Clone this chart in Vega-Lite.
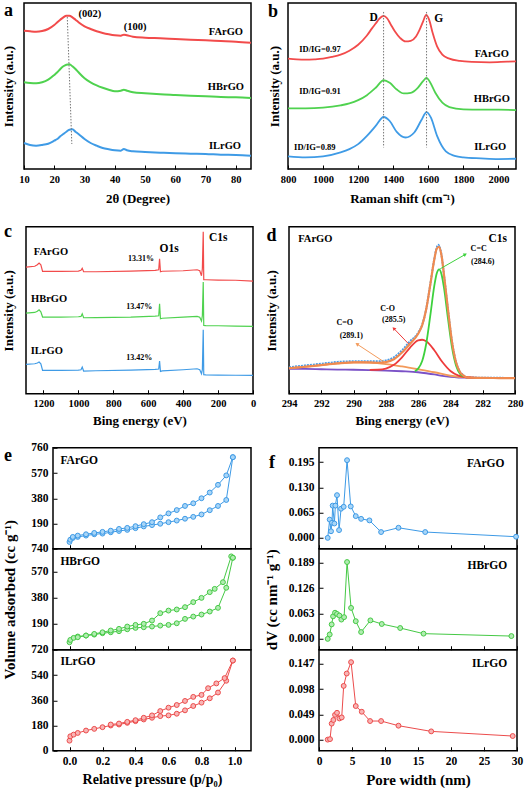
{
"$schema": "https://vega.github.io/schema/vega-lite/v6.json",
"padding": {"left": 0, "top": 0, "right": 0, "bottom": 0},
"background": "white",
"config": {
 "font": "Liberation Serif",
 "view": {"stroke": "#000", "strokeWidth": 1.5},
 "axis": {"domain": false, "grid": false, "labelFont": "Liberation Serif", "labelFontWeight": "bold", "labelFontSize": 10.5, "labelColor": "#000", "titleFont": "Liberation Serif", "titleFontWeight": "bold", "titleFontSize": 13, "titleColor": "#000", "tickColor": "#000", "tickSize": -4, "tickWidth": 1, "labelPadding": 9, "titlePadding": 8, "labelFlush": false, "labelOverlap": false},
 "text": {"font": "Liberation Serif", "fontWeight": "bold", "color": "#000"}
},
"datasets": {
 "xrd": [
  {"x":10,"y":138.3,"s":"FArGO"},{"x":12,"y":137.7,"s":"FArGO"},{"x":14,"y":137.3,"s":"FArGO"},{"x":16,"y":138,"s":"FArGO"},{"x":18,"y":140,"s":"FArGO"},{"x":20,"y":144,"s":"FArGO"},{"x":21,"y":146.7,"s":"FArGO"},{"x":22,"y":149.3,"s":"FArGO"},{"x":23,"y":151.7,"s":"FArGO"},{"x":24,"y":153.3,"s":"FArGO"},{"x":25,"y":153.3,"s":"FArGO"},{"x":26,"y":151.7,"s":"FArGO"},{"x":27,"y":149.3,"s":"FArGO"},{"x":28,"y":146.7,"s":"FArGO"},{"x":30,"y":142.7,"s":"FArGO"},{"x":32,"y":140,"s":"FArGO"},{"x":34,"y":137.7,"s":"FArGO"},{"x":36,"y":136,"s":"FArGO"},{"x":38,"y":134.7,"s":"FArGO"},{"x":40,"y":133.7,"s":"FArGO"},{"x":42,"y":133.3,"s":"FArGO"},{"x":43,"y":134.3,"s":"FArGO"},{"x":44,"y":133.7,"s":"FArGO"},{"x":46,"y":132.3,"s":"FArGO"},{"x":50,"y":131.3,"s":"FArGO"},{"x":55,"y":130.7,"s":"FArGO"},{"x":60,"y":130,"s":"FArGO"},{"x":65,"y":129.3,"s":"FArGO"},{"x":70,"y":128.7,"s":"FArGO"},{"x":75,"y":128,"s":"FArGO"},{"x":80,"y":127.3,"s":"FArGO"},{"x":85,"y":126.3,"s":"FArGO"},
  {"x":10,"y":86.7,"s":"HBrGO"},{"x":12,"y":86,"s":"HBrGO"},{"x":14,"y":85.7,"s":"HBrGO"},{"x":16,"y":86.7,"s":"HBrGO"},{"x":18,"y":89.3,"s":"HBrGO"},{"x":20,"y":94,"s":"HBrGO"},{"x":21,"y":96.7,"s":"HBrGO"},{"x":22,"y":100,"s":"HBrGO"},{"x":23,"y":102.7,"s":"HBrGO"},{"x":24,"y":104.3,"s":"HBrGO"},{"x":25,"y":104.7,"s":"HBrGO"},{"x":26,"y":102.7,"s":"HBrGO"},{"x":27,"y":100,"s":"HBrGO"},{"x":28,"y":96.7,"s":"HBrGO"},{"x":30,"y":90.7,"s":"HBrGO"},{"x":32,"y":86.7,"s":"HBrGO"},{"x":34,"y":83.7,"s":"HBrGO"},{"x":36,"y":81.3,"s":"HBrGO"},{"x":38,"y":79.3,"s":"HBrGO"},{"x":40,"y":77.7,"s":"HBrGO"},{"x":42,"y":78.3,"s":"HBrGO"},{"x":43,"y":79.3,"s":"HBrGO"},{"x":44,"y":78.3,"s":"HBrGO"},{"x":46,"y":76.7,"s":"HBrGO"},{"x":50,"y":75.7,"s":"HBrGO"},{"x":55,"y":74.7,"s":"HBrGO"},{"x":60,"y":74,"s":"HBrGO"},{"x":65,"y":73.3,"s":"HBrGO"},{"x":70,"y":72.7,"s":"HBrGO"},{"x":75,"y":72,"s":"HBrGO"},{"x":80,"y":71.7,"s":"HBrGO"},{"x":85,"y":71,"s":"HBrGO"},
  {"x":10,"y":26,"s":"ILrGO"},{"x":12,"y":24,"s":"ILrGO"},{"x":14,"y":23.3,"s":"ILrGO"},{"x":16,"y":24,"s":"ILrGO"},{"x":18,"y":25.3,"s":"ILrGO"},{"x":20,"y":28.3,"s":"ILrGO"},{"x":21,"y":30,"s":"ILrGO"},{"x":22,"y":32.7,"s":"ILrGO"},{"x":23,"y":35,"s":"ILrGO"},{"x":24,"y":37.3,"s":"ILrGO"},{"x":25,"y":39.3,"s":"ILrGO"},{"x":26,"y":39.7,"s":"ILrGO"},{"x":27,"y":37.3,"s":"ILrGO"},{"x":28,"y":35,"s":"ILrGO"},{"x":30,"y":30,"s":"ILrGO"},{"x":32,"y":26,"s":"ILrGO"},{"x":34,"y":23.3,"s":"ILrGO"},{"x":36,"y":21,"s":"ILrGO"},{"x":38,"y":19.7,"s":"ILrGO"},{"x":40,"y":18.7,"s":"ILrGO"},{"x":42,"y":18.3,"s":"ILrGO"},{"x":43,"y":20,"s":"ILrGO"},{"x":44,"y":18.7,"s":"ILrGO"},{"x":46,"y":17.7,"s":"ILrGO"},{"x":50,"y":17,"s":"ILrGO"},{"x":55,"y":16.3,"s":"ILrGO"},{"x":60,"y":15.7,"s":"ILrGO"},{"x":65,"y":15.3,"s":"ILrGO"},{"x":70,"y":15,"s":"ILrGO"},{"x":75,"y":14.3,"s":"ILrGO"},{"x":80,"y":14,"s":"ILrGO"},{"x":85,"y":13.3,"s":"ILrGO"}
 ],
 "xrdg": [{"x":24.3,"y":152},{"x":25.8,"y":25}],
 "xrdl": [{"x":31.8,"y":155,"t":"(002)"},{"x":46.7,"y":141.7,"t":"(100)"},{"x":76.7,"y":136.7,"t":"FArGO"},{"x":76.7,"y":81.7,"t":"HBrGO"},{"x":76.4,"y":22.7,"t":"ILrGO"}],
 "ram": [
  {"x":800,"y":111,"s":"FArGO"},{"x":850,"y":110.3,"s":"FArGO"},{"x":900,"y":110,"s":"FArGO"},{"x":950,"y":110.3,"s":"FArGO"},{"x":1000,"y":111,"s":"FArGO"},{"x":1050,"y":112.7,"s":"FArGO"},{"x":1100,"y":115,"s":"FArGO"},{"x":1150,"y":119,"s":"FArGO"},{"x":1200,"y":125,"s":"FArGO"},{"x":1250,"y":134.3,"s":"FArGO"},{"x":1280,"y":141.7,"s":"FArGO"},{"x":1300,"y":146.3,"s":"FArGO"},{"x":1320,"y":151,"s":"FArGO"},{"x":1345,"y":154,"s":"FArGO"},{"x":1365,"y":151.7,"s":"FArGO"},{"x":1385,"y":145.7,"s":"FArGO"},{"x":1410,"y":138.3,"s":"FArGO"},{"x":1440,"y":131.7,"s":"FArGO"},{"x":1470,"y":128.3,"s":"FArGO"},{"x":1500,"y":129,"s":"FArGO"},{"x":1530,"y":133.3,"s":"FArGO"},{"x":1550,"y":140,"s":"FArGO"},{"x":1570,"y":148.3,"s":"FArGO"},{"x":1588,"y":155,"s":"FArGO"},{"x":1605,"y":150,"s":"FArGO"},{"x":1625,"y":136.7,"s":"FArGO"},{"x":1650,"y":123.3,"s":"FArGO"},{"x":1680,"y":115,"s":"FArGO"},{"x":1720,"y":111,"s":"FArGO"},{"x":1780,"y":108.7,"s":"FArGO"},{"x":1850,"y":107.7,"s":"FArGO"},{"x":1950,"y":107.3,"s":"FArGO"},{"x":2050,"y":108,"s":"FArGO"},{"x":2100,"y":108.3,"s":"FArGO"},
  {"x":800,"y":61,"s":"HBrGO"},{"x":900,"y":61,"s":"HBrGO"},{"x":1000,"y":61.7,"s":"HBrGO"},{"x":1100,"y":64,"s":"HBrGO"},{"x":1150,"y":66,"s":"HBrGO"},{"x":1200,"y":69.3,"s":"HBrGO"},{"x":1250,"y":74.3,"s":"HBrGO"},{"x":1300,"y":81.7,"s":"HBrGO"},{"x":1345,"y":89.3,"s":"HBrGO"},{"x":1380,"y":86.7,"s":"HBrGO"},{"x":1420,"y":80,"s":"HBrGO"},{"x":1460,"y":76,"s":"HBrGO"},{"x":1500,"y":76.7,"s":"HBrGO"},{"x":1540,"y":81.7,"s":"HBrGO"},{"x":1570,"y":88.3,"s":"HBrGO"},{"x":1590,"y":91.7,"s":"HBrGO"},{"x":1610,"y":87.3,"s":"HBrGO"},{"x":1640,"y":76.7,"s":"HBrGO"},{"x":1680,"y":66.7,"s":"HBrGO"},{"x":1720,"y":62.3,"s":"HBrGO"},{"x":1800,"y":60,"s":"HBrGO"},{"x":1900,"y":59.7,"s":"HBrGO"},{"x":2000,"y":59.7,"s":"HBrGO"},{"x":2100,"y":59.3,"s":"HBrGO"},
  {"x":800,"y":12.7,"s":"ILrGO"},{"x":900,"y":11.7,"s":"ILrGO"},{"x":1000,"y":12.7,"s":"ILrGO"},{"x":1100,"y":16.7,"s":"ILrGO"},{"x":1150,"y":20,"s":"ILrGO"},{"x":1200,"y":25,"s":"ILrGO"},{"x":1250,"y":33.3,"s":"ILrGO"},{"x":1300,"y":43.3,"s":"ILrGO"},{"x":1345,"y":52.3,"s":"ILrGO"},{"x":1380,"y":48.3,"s":"ILrGO"},{"x":1420,"y":37.3,"s":"ILrGO"},{"x":1470,"y":31.7,"s":"ILrGO"},{"x":1520,"y":36.7,"s":"ILrGO"},{"x":1560,"y":49,"s":"ILrGO"},{"x":1590,"y":57.3,"s":"ILrGO"},{"x":1615,"y":51.7,"s":"ILrGO"},{"x":1650,"y":33.3,"s":"ILrGO"},{"x":1700,"y":17.7,"s":"ILrGO"},{"x":1750,"y":13.3,"s":"ILrGO"},{"x":1800,"y":11.7,"s":"ILrGO"},{"x":1900,"y":10.7,"s":"ILrGO"},{"x":2000,"y":10,"s":"ILrGO"},{"x":2100,"y":10.3,"s":"ILrGO"}
 ],
 "ramg": [{"x":1345,"y":158,"g":"D"},{"x":1345,"y":21.7,"g":"D"},{"x":1590,"y":158,"g":"G"},{"x":1590,"y":21.7,"g":"G"}],
 "raml": [{"x":1288,"y":151.7,"t":"D","k":"p"},{"x":1660,"y":151,"t":"G","k":"p"},{"x":982,"y":120.7,"t":"ID/IG=0.97","k":"r"},{"x":982,"y":78.3,"t":"ID/IG=0.91","k":"r"},{"x":953,"y":22.3,"t":"ID/IG=0.89","k":"r"},{"x":1962,"y":115.7,"t":"FArGO","k":"n"},{"x":1962,"y":70.7,"t":"HBrGO","k":"n"},{"x":1953,"y":22.3,"t":"ILrGO","k":"n"}],
 "svy": [
  {"x":1300,"y":126.7,"s":"FArGO"},{"x":1250,"y":127.5,"s":"FArGO"},{"x":1235,"y":129,"s":"FArGO"},{"x":1225,"y":130.7,"s":"FArGO"},{"x":1215,"y":129,"s":"FArGO"},{"x":1205,"y":122.3,"s":"FArGO"},{"x":1100,"y":122.3,"s":"FArGO"},{"x":1000,"y":122.7,"s":"FArGO"},{"x":985,"y":123.5,"s":"FArGO"},{"x":978,"y":125.5,"s":"FArGO"},{"x":970,"y":122,"s":"FArGO"},{"x":900,"y":122,"s":"FArGO"},{"x":700,"y":122.7,"s":"FArGO"},{"x":560,"y":123.3,"s":"FArGO"},{"x":540,"y":124,"s":"FArGO"},{"x":535,"y":135,"s":"FArGO"},{"x":530,"y":122,"s":"FArGO"},{"x":520,"y":122.5,"s":"FArGO"},{"x":400,"y":123,"s":"FArGO"},{"x":320,"y":124,"s":"FArGO"},{"x":305,"y":123,"s":"FArGO"},{"x":295,"y":118,"s":"FArGO"},{"x":290,"y":125,"s":"FArGO"},{"x":285,"y":162,"s":"FArGO"},{"x":282,"y":114,"s":"FArGO"},{"x":270,"y":114,"s":"FArGO"},{"x":200,"y":113.7,"s":"FArGO"},{"x":100,"y":113.5,"s":"FArGO"},{"x":0,"y":112.7,"s":"FArGO"},
  {"x":1300,"y":80.7,"s":"HBrGO"},{"x":1250,"y":81.3,"s":"HBrGO"},{"x":1235,"y":82.5,"s":"HBrGO"},{"x":1225,"y":84,"s":"HBrGO"},{"x":1215,"y":82,"s":"HBrGO"},{"x":1205,"y":76.7,"s":"HBrGO"},{"x":1100,"y":76.7,"s":"HBrGO"},{"x":1000,"y":77,"s":"HBrGO"},{"x":985,"y":77.3,"s":"HBrGO"},{"x":978,"y":80,"s":"HBrGO"},{"x":970,"y":76,"s":"HBrGO"},{"x":900,"y":76.2,"s":"HBrGO"},{"x":700,"y":76.7,"s":"HBrGO"},{"x":560,"y":77.7,"s":"HBrGO"},{"x":540,"y":78,"s":"HBrGO"},{"x":535,"y":90,"s":"HBrGO"},{"x":530,"y":75,"s":"HBrGO"},{"x":520,"y":75.5,"s":"HBrGO"},{"x":400,"y":76.7,"s":"HBrGO"},{"x":320,"y":77.3,"s":"HBrGO"},{"x":305,"y":76.5,"s":"HBrGO"},{"x":295,"y":72.7,"s":"HBrGO"},{"x":290,"y":78,"s":"HBrGO"},{"x":285,"y":111.7,"s":"HBrGO"},{"x":282,"y":68.3,"s":"HBrGO"},{"x":270,"y":68.2,"s":"HBrGO"},{"x":200,"y":68,"s":"HBrGO"},{"x":100,"y":67.7,"s":"HBrGO"},{"x":0,"y":67.3,"s":"HBrGO"},
  {"x":1300,"y":29.3,"s":"ILrGO"},{"x":1250,"y":30,"s":"ILrGO"},{"x":1235,"y":30.8,"s":"ILrGO"},{"x":1225,"y":31.7,"s":"ILrGO"},{"x":1215,"y":30,"s":"ILrGO"},{"x":1205,"y":23.3,"s":"ILrGO"},{"x":1100,"y":23.3,"s":"ILrGO"},{"x":1000,"y":23.7,"s":"ILrGO"},{"x":985,"y":24,"s":"ILrGO"},{"x":978,"y":26.7,"s":"ILrGO"},{"x":970,"y":22.7,"s":"ILrGO"},{"x":900,"y":23,"s":"ILrGO"},{"x":700,"y":23.7,"s":"ILrGO"},{"x":560,"y":24.3,"s":"ILrGO"},{"x":540,"y":24.7,"s":"ILrGO"},{"x":535,"y":32.7,"s":"ILrGO"},{"x":530,"y":22.3,"s":"ILrGO"},{"x":520,"y":22.8,"s":"ILrGO"},{"x":400,"y":24,"s":"ILrGO"},{"x":320,"y":25,"s":"ILrGO"},{"x":305,"y":24,"s":"ILrGO"},{"x":295,"y":20,"s":"ILrGO"},{"x":290,"y":24,"s":"ILrGO"},{"x":285,"y":64,"s":"ILrGO"},{"x":282,"y":19,"s":"ILrGO"},{"x":270,"y":18.9,"s":"ILrGO"},{"x":200,"y":18.7,"s":"ILrGO"},{"x":100,"y":18.5,"s":"ILrGO"},{"x":0,"y":18.3,"s":"ILrGO"}
 ],
 "svyl": [{"x":1157,"y":142,"t":"FArGO","k":"n"},{"x":1168,"y":94.3,"t":"HBrGO","k":"n"},{"x":1181,"y":43,"t":"ILrGO","k":"n"},{"x":641,"y":135,"t":"13.31%","k":"r"},{"x":651,"y":87,"t":"13.47%","k":"r"},{"x":651,"y":35.3,"t":"13.42%","k":"r"},{"x":481,"y":144.7,"t":"O1s","k":"p"},{"x":199,"y":156,"t":"C1s","k":"p"}],
 "c1s": [
  {"x":294,"y":25,"c":"bg"},{"x":293,"y":24.8,"c":"bg"},{"x":292,"y":24.5,"c":"bg"},{"x":291,"y":24.2,"c":"bg"},{"x":290,"y":24,"c":"bg"},{"x":289,"y":23.7,"c":"bg"},{"x":288,"y":23.2,"c":"bg"},{"x":287,"y":22.5,"c":"bg"},{"x":286,"y":21.5,"c":"bg"},{"x":285.5,"y":20.5,"c":"bg"},{"x":285,"y":19.3,"c":"bg"},{"x":284.5,"y":17.8,"c":"bg"},{"x":284,"y":16.8,"c":"bg"},{"x":283.5,"y":16.2,"c":"bg"},{"x":283,"y":16,"c":"bg"},{"x":282,"y":15.8,"c":"bg"},{"x":281,"y":15.7,"c":"bg"},{"x":280,"y":15.6,"c":"bg"},
  {"x":294,"y":25.5,"c":"co2"},{"x":293,"y":27,"c":"co2"},{"x":292,"y":28.7,"c":"co2"},{"x":291,"y":30.3,"c":"co2"},{"x":290,"y":31.3,"c":"co2"},{"x":289.5,"y":31.5,"c":"co2"},{"x":289,"y":31.2,"c":"co2"},{"x":288,"y":29.7,"c":"co2"},{"x":287,"y":27.3,"c":"co2"},{"x":286,"y":24.5,"c":"co2"},{"x":285,"y":21.5,"c":"co2"},{"x":284,"y":18,"c":"co2"},{"x":283,"y":16.3,"c":"co2"},{"x":282,"y":15.8,"c":"co2"},
  {"x":289,"y":23.8,"c":"co"},{"x":288.5,"y":24,"c":"co"},{"x":288,"y":25.2,"c":"co"},{"x":287.5,"y":28.9,"c":"co"},{"x":287,"y":36.4,"c":"co"},{"x":286.5,"y":46.2,"c":"co"},{"x":286,"y":53.4,"c":"co"},{"x":285.75,"y":54,"c":"co"},{"x":285.5,"y":52.4,"c":"co"},{"x":285,"y":43.5,"c":"co"},{"x":284.5,"y":31.7,"c":"co"},{"x":284,"y":22.8,"c":"co"},{"x":283.5,"y":18.2,"c":"co"},{"x":283,"y":16.5,"c":"co"},{"x":282.5,"y":15.9,"c":"co"},
  {"x":286.2,"y":22.5,"c":"cc"},{"x":286,"y":25.1,"c":"cc"},{"x":285.75,"y":32.7,"c":"cc"},{"x":285.5,"y":50,"c":"cc"},{"x":285.25,"y":77.8,"c":"cc"},{"x":285,"y":107.8,"c":"cc"},{"x":284.85,"y":120.2,"c":"cc"},{"x":284.7,"y":124.4,"c":"cc"},{"x":284.55,"y":119.3,"c":"cc"},{"x":284.4,"y":106.1,"c":"cc"},{"x":284.15,"y":75,"c":"cc"},{"x":283.9,"y":46.2,"c":"cc"},{"x":283.65,"y":28.1,"c":"cc"},{"x":283.4,"y":19.8,"c":"cc"},{"x":283.2,"y":17.3,"c":"cc"},
  {"x":294,"y":26.5,"c":"raw"},{"x":293,"y":28.3,"c":"raw"},{"x":292,"y":30,"c":"raw"},{"x":291,"y":31.8,"c":"raw"},{"x":290,"y":32.5,"c":"raw"},{"x":289,"y":32.6,"c":"raw"},{"x":288.5,"y":32.5,"c":"raw"},{"x":288,"y":33.3,"c":"raw"},{"x":287.5,"y":36.5,"c":"raw"},{"x":287,"y":43.5,"c":"raw"},{"x":286.5,"y":52.5,"c":"raw"},{"x":286,"y":61,"c":"raw"},{"x":285.75,"y":69,"c":"raw"},{"x":285.5,"y":85,"c":"raw"},{"x":285.25,"y":109,"c":"raw"},{"x":285,"y":134.5,"c":"raw"},{"x":284.85,"y":146,"c":"raw"},{"x":284.75,"y":149,"c":"raw"},{"x":284.7,"y":148,"c":"raw"},{"x":284.55,"y":138.5,"c":"raw"},{"x":284.4,"y":119,"c":"raw"},{"x":284.15,"y":84,"c":"raw"},{"x":283.9,"y":51.5,"c":"raw"},{"x":283.65,"y":31.5,"c":"raw"},{"x":283.4,"y":21.8,"c":"raw"},{"x":283.2,"y":18.5,"c":"raw"},{"x":283,"y":16.6,"c":"raw"},{"x":282,"y":16,"c":"raw"},{"x":281,"y":15.9,"c":"raw"},{"x":280,"y":15.8,"c":"raw"},
  {"x":294,"y":25.5,"c":"env"},{"x":293,"y":27,"c":"env"},{"x":292,"y":28.7,"c":"env"},{"x":291,"y":30.3,"c":"env"},{"x":290,"y":31.3,"c":"env"},{"x":289,"y":31.3,"c":"env"},{"x":288.5,"y":31,"c":"env"},{"x":288,"y":31.7,"c":"env"},{"x":287.5,"y":34.5,"c":"env"},{"x":287,"y":41.2,"c":"env"},{"x":286.5,"y":50,"c":"env"},{"x":286,"y":60,"c":"env"},{"x":285.75,"y":68.5,"c":"env"},{"x":285.5,"y":84.5,"c":"env"},{"x":285.25,"y":108.9,"c":"env"},{"x":285,"y":134.2,"c":"env"},{"x":284.85,"y":145,"c":"env"},{"x":284.7,"y":147,"c":"env"},{"x":284.55,"y":138,"c":"env"},{"x":284.4,"y":119,"c":"env"},{"x":284.15,"y":83.8,"c":"env"},{"x":283.9,"y":51.6,"c":"env"},{"x":283.65,"y":31.2,"c":"env"},{"x":283.4,"y":21.5,"c":"env"},{"x":283.2,"y":18.4,"c":"env"},{"x":283,"y":16.3,"c":"env"},{"x":282,"y":15.8,"c":"env"},{"x":281,"y":15.7,"c":"env"},{"x":280,"y":15.6,"c":"env"}
 ],
 "arrows": [{"x":284.63,"y":125,"c":"cc"},{"x":283.08,"y":139.3,"c":"cc"},{"x":286.58,"y":49.7,"c":"co"},{"x":287.51,"y":65.3,"c":"co"},{"x":288.03,"y":31,"c":"co2"},{"x":289.79,"y":49.7,"c":"co2"}],
 "dlab": [{"x":292.37,"y":155,"t":"FArGO","k":"n"},{"x":281.07,"y":155,"t":"C1s","k":"p"},{"x":282.25,"y":145,"t":"C=C","k":"s"},{"x":282,"y":131.7,"t":"(284.6)","k":"s"},{"x":287.89,"y":84.3,"t":"C-O","k":"s"},{"x":287.51,"y":73.7,"t":"(285.5)","k":"s"},{"x":290.55,"y":70.3,"t":"C=O","k":"s"},{"x":290.14,"y":58,"t":"(289.1)","k":"s"}],
 "bet": [
  {"x":0,"y":51,"s":"FArGO","b":"a"},{"x":0.005,"y":68,"s":"FArGO","b":"a"},{"x":0.02,"y":81,"s":"FArGO","b":"a"},{"x":0.05,"y":89,"s":"FArGO","b":"a"},{"x":0.1,"y":99,"s":"FArGO","b":"a"},{"x":0.15,"y":109,"s":"FArGO","b":"a"},{"x":0.2,"y":114,"s":"FArGO","b":"a"},{"x":0.25,"y":124,"s":"FArGO","b":"a"},{"x":0.3,"y":134,"s":"FArGO","b":"a"},{"x":0.35,"y":142,"s":"FArGO","b":"a"},{"x":0.4,"y":155,"s":"FArGO","b":"a"},{"x":0.45,"y":168,"s":"FArGO","b":"a"},{"x":0.5,"y":178,"s":"FArGO","b":"a"},{"x":0.55,"y":188,"s":"FArGO","b":"a"},{"x":0.6,"y":200,"s":"FArGO","b":"a"},{"x":0.65,"y":212,"s":"FArGO","b":"a"},{"x":0.7,"y":226,"s":"FArGO","b":"a"},{"x":0.75,"y":240,"s":"FArGO","b":"a"},{"x":0.8,"y":258,"s":"FArGO","b":"a"},{"x":0.85,"y":290,"s":"FArGO","b":"a"},{"x":0.9,"y":322,"s":"FArGO","b":"a"},{"x":0.95,"y":367,"s":"FArGO","b":"a"},{"x":0.99,"y":689,"s":"FArGO","b":"a"},
  {"x":0.02,"y":89,"s":"FArGO","b":"d"},{"x":0.05,"y":99,"s":"FArGO","b":"d"},{"x":0.1,"y":109,"s":"FArGO","b":"d"},{"x":0.15,"y":119,"s":"FArGO","b":"d"},{"x":0.2,"y":127,"s":"FArGO","b":"d"},{"x":0.25,"y":136,"s":"FArGO","b":"d"},{"x":0.3,"y":149,"s":"FArGO","b":"d"},{"x":0.35,"y":157,"s":"FArGO","b":"d"},{"x":0.4,"y":170,"s":"FArGO","b":"d"},{"x":0.45,"y":185,"s":"FArGO","b":"d"},{"x":0.5,"y":200,"s":"FArGO","b":"d"},{"x":0.55,"y":236,"s":"FArGO","b":"d"},{"x":0.6,"y":266,"s":"FArGO","b":"d"},{"x":0.65,"y":291,"s":"FArGO","b":"d"},{"x":0.7,"y":322,"s":"FArGO","b":"d"},{"x":0.75,"y":342,"s":"FArGO","b":"d"},{"x":0.8,"y":380,"s":"FArGO","b":"d"},{"x":0.85,"y":423,"s":"FArGO","b":"d"},{"x":0.9,"y":481,"s":"FArGO","b":"d"},{"x":0.95,"y":552,"s":"FArGO","b":"d"},{"x":0.99,"y":689,"s":"FArGO","b":"d"},
  {"x":0,"y":55,"s":"HBrGO","b":"a"},{"x":0.005,"y":72,"s":"HBrGO","b":"a"},{"x":0.025,"y":87,"s":"HBrGO","b":"a"},{"x":0.05,"y":97,"s":"HBrGO","b":"a"},{"x":0.1,"y":104,"s":"HBrGO","b":"a"},{"x":0.15,"y":111,"s":"HBrGO","b":"a"},{"x":0.2,"y":121,"s":"HBrGO","b":"a"},{"x":0.25,"y":128,"s":"HBrGO","b":"a"},{"x":0.3,"y":136,"s":"HBrGO","b":"a"},{"x":0.35,"y":150,"s":"HBrGO","b":"a"},{"x":0.4,"y":160,"s":"HBrGO","b":"a"},{"x":0.45,"y":165,"s":"HBrGO","b":"a"},{"x":0.5,"y":170,"s":"HBrGO","b":"a"},{"x":0.55,"y":177,"s":"HBrGO","b":"a"},{"x":0.6,"y":182,"s":"HBrGO","b":"a"},{"x":0.65,"y":194,"s":"HBrGO","b":"a"},{"x":0.7,"y":226,"s":"HBrGO","b":"a"},{"x":0.75,"y":243,"s":"HBrGO","b":"a"},{"x":0.8,"y":258,"s":"HBrGO","b":"a"},{"x":0.85,"y":280,"s":"HBrGO","b":"a"},{"x":0.9,"y":307,"s":"HBrGO","b":"a"},{"x":0.95,"y":454,"s":"HBrGO","b":"a"},{"x":0.99,"y":674,"s":"HBrGO","b":"a"},
  {"x":0.05,"y":92,"s":"HBrGO","b":"d"},{"x":0.1,"y":104,"s":"HBrGO","b":"d"},{"x":0.15,"y":116,"s":"HBrGO","b":"d"},{"x":0.2,"y":128,"s":"HBrGO","b":"d"},{"x":0.25,"y":141,"s":"HBrGO","b":"d"},{"x":0.3,"y":153,"s":"HBrGO","b":"d"},{"x":0.35,"y":170,"s":"HBrGO","b":"d"},{"x":0.4,"y":182,"s":"HBrGO","b":"d"},{"x":0.45,"y":190,"s":"HBrGO","b":"d"},{"x":0.5,"y":214,"s":"HBrGO","b":"d"},{"x":0.55,"y":268,"s":"HBrGO","b":"d"},{"x":0.6,"y":287,"s":"HBrGO","b":"d"},{"x":0.65,"y":295,"s":"HBrGO","b":"d"},{"x":0.7,"y":312,"s":"HBrGO","b":"d"},{"x":0.75,"y":349,"s":"HBrGO","b":"d"},{"x":0.8,"y":380,"s":"HBrGO","b":"d"},{"x":0.85,"y":422,"s":"HBrGO","b":"d"},{"x":0.88,"y":446,"s":"HBrGO","b":"d"},{"x":0.93,"y":495,"s":"HBrGO","b":"d"},{"x":0.98,"y":684,"s":"HBrGO","b":"d"},{"x":0.99,"y":674,"s":"HBrGO","b":"d"},
  {"x":0,"y":72,"s":"ILrGO","b":"a"},{"x":0.005,"y":103,"s":"ILrGO","b":"a"},{"x":0.025,"y":115,"s":"ILrGO","b":"a"},{"x":0.05,"y":127,"s":"ILrGO","b":"a"},{"x":0.1,"y":144,"s":"ILrGO","b":"a"},{"x":0.15,"y":156,"s":"ILrGO","b":"a"},{"x":0.2,"y":168,"s":"ILrGO","b":"a"},{"x":0.25,"y":180,"s":"ILrGO","b":"a"},{"x":0.3,"y":187,"s":"ILrGO","b":"a"},{"x":0.35,"y":199,"s":"ILrGO","b":"a"},{"x":0.4,"y":211,"s":"ILrGO","b":"a"},{"x":0.45,"y":223,"s":"ILrGO","b":"a"},{"x":0.5,"y":235,"s":"ILrGO","b":"a"},{"x":0.55,"y":247,"s":"ILrGO","b":"a"},{"x":0.6,"y":252,"s":"ILrGO","b":"a"},{"x":0.65,"y":264,"s":"ILrGO","b":"a"},{"x":0.7,"y":288,"s":"ILrGO","b":"a"},{"x":0.75,"y":319,"s":"ILrGO","b":"a"},{"x":0.8,"y":343,"s":"ILrGO","b":"a"},{"x":0.85,"y":374,"s":"ILrGO","b":"a"},{"x":0.9,"y":415,"s":"ILrGO","b":"a"},{"x":0.95,"y":499,"s":"ILrGO","b":"a"},{"x":0.99,"y":643,"s":"ILrGO","b":"a"},
  {"x":0.25,"y":187,"s":"ILrGO","b":"d"},{"x":0.3,"y":194,"s":"ILrGO","b":"d"},{"x":0.35,"y":206,"s":"ILrGO","b":"d"},{"x":0.4,"y":218,"s":"ILrGO","b":"d"},{"x":0.45,"y":235,"s":"ILrGO","b":"d"},{"x":0.5,"y":252,"s":"ILrGO","b":"d"},{"x":0.55,"y":283,"s":"ILrGO","b":"d"},{"x":0.6,"y":307,"s":"ILrGO","b":"d"},{"x":0.65,"y":326,"s":"ILrGO","b":"d"},{"x":0.7,"y":355,"s":"ILrGO","b":"d"},{"x":0.75,"y":384,"s":"ILrGO","b":"d"},{"x":0.8,"y":398,"s":"ILrGO","b":"d"},{"x":0.84,"y":446,"s":"ILrGO","b":"d"},{"x":0.89,"y":480,"s":"ILrGO","b":"d"},{"x":0.94,"y":518,"s":"ILrGO","b":"d"},{"x":0.99,"y":643,"s":"ILrGO","b":"d"}
 ],
 "betl": [{"x":-0.055,"y":661,"t":"FArGO","s":"FArGO"},{"x":-0.055,"y":642,"t":"HBrGO","s":"HBrGO"},{"x":-0.055,"y":631,"t":"ILrGO","s":"ILrGO"}],
 "psd": [
  {"x":1.32,"y":0,"s":"FArGO"},{"x":1.62,"y":0.047,"s":"FArGO"},{"x":1.82,"y":0.017,"s":"FArGO"},{"x":1.97,"y":0.039,"s":"FArGO"},{"x":2.07,"y":0.083,"s":"FArGO"},{"x":2.33,"y":0.037,"s":"FArGO"},{"x":2.48,"y":0.083,"s":"FArGO"},{"x":2.73,"y":0.11,"s":"FArGO"},{"x":3.04,"y":0.02,"s":"FArGO"},{"x":3.34,"y":0.075,"s":"FArGO"},{"x":3.74,"y":0.08,"s":"FArGO"},{"x":4.25,"y":0.2,"s":"FArGO"},{"x":4.81,"y":0.081,"s":"FArGO"},{"x":5.57,"y":0.056,"s":"FArGO"},{"x":6.38,"y":0.049,"s":"FArGO"},{"x":7.64,"y":0.045,"s":"FArGO"},{"x":9.41,"y":0.015,"s":"FArGO"},{"x":12.04,"y":0.026,"s":"FArGO"},{"x":16.09,"y":0.015,"s":"FArGO"},{"x":29.86,"y":0.003,"s":"FArGO"},
  {"x":1.32,"y":0,"s":"HBrGO"},{"x":1.62,"y":0.011,"s":"HBrGO"},{"x":1.92,"y":0.036,"s":"HBrGO"},{"x":2.13,"y":0.056,"s":"HBrGO"},{"x":2.43,"y":0.065,"s":"HBrGO"},{"x":2.73,"y":0.062,"s":"HBrGO"},{"x":3.09,"y":0.058,"s":"HBrGO"},{"x":3.39,"y":0.048,"s":"HBrGO"},{"x":3.8,"y":0.054,"s":"HBrGO"},{"x":4.25,"y":0.191,"s":"HBrGO"},{"x":4.86,"y":0.077,"s":"HBrGO"},{"x":5.57,"y":0.044,"s":"HBrGO"},{"x":6.38,"y":0.017,"s":"HBrGO"},{"x":7.79,"y":0.046,"s":"HBrGO"},{"x":9.51,"y":0.037,"s":"HBrGO"},{"x":12.3,"y":0.027,"s":"HBrGO"},{"x":15.84,"y":0.013,"s":"HBrGO"},{"x":29.15,"y":0.007,"s":"HBrGO"},
  {"x":1.32,"y":0,"s":"ILrGO"},{"x":1.67,"y":0.001,"s":"ILrGO"},{"x":1.92,"y":0.031,"s":"ILrGO"},{"x":2.18,"y":0.038,"s":"ILrGO"},{"x":2.43,"y":0.048,"s":"ILrGO"},{"x":2.73,"y":0.052,"s":"ILrGO"},{"x":3.09,"y":0.041,"s":"ILrGO"},{"x":3.44,"y":0.043,"s":"ILrGO"},{"x":3.74,"y":0.104,"s":"ILrGO"},{"x":4.2,"y":0.128,"s":"ILrGO"},{"x":4.86,"y":0.15,"s":"ILrGO"},{"x":5.57,"y":0.065,"s":"ILrGO"},{"x":6.48,"y":0.054,"s":"ILrGO"},{"x":7.74,"y":0.036,"s":"ILrGO"},{"x":9.41,"y":0.036,"s":"ILrGO"},{"x":12.04,"y":0.027,"s":"ILrGO"},{"x":17,"y":0.016,"s":"ILrGO"},{"x":29.35,"y":0.007,"s":"ILrGO"}
 ],
 "psdl": [{"x":28.1,"y":0.191,"t":"FArGO","s":"FArGO"},{"x":28.5,"y":0.182,"t":"HBrGO","s":"HBrGO"},{"x":28.5,"y":0.147,"t":"ILrGO","s":"ILrGO"}]
},
"resolve": {"scale": {"color": "independent"}},
"columns": 1,
"align": "none",
"spacing": 11.75,
"concat": [
 {"columns": 1, "align": "none", "spacing": 14.75, "resolve": {"scale": {"color": "independent"}}, "concat": [
  {"spacing": 0, "resolve": {"scale": {"color": "independent"}}, "hconcat": [
   {"width": 1, "height": 1, "view": {"stroke": null}, "data": {"values": []}, "mark": "point"},
   {"spacing": 11, "resolve": {"scale": {"color": "independent"}}, "hconcat": [
    {"width": 227, "height": 166,
     "encoding": {
      "x": {"field": "x", "type": "quantitative", "scale": {"domain": [10, 85], "nice": false, "zero": false}, "axis": {"title": "2θ (Degree)", "values": [10,20,30,40,50,60,70,80]}},
      "y": {"field": "y", "type": "quantitative", "scale": {"domain": [0, 166], "nice": false}, "axis": {"title": "Intensity (a.u.)", "labels": false, "ticks": false, "titlePadding": 9}}
     },
     "layer": [
      {"data": {"name": "xrd"}, "mark": {"type": "line", "strokeWidth": 2, "interpolate": "monotone"}, "encoding": {"color": {"field": "s", "type": "nominal", "scale": {"domain": ["FArGO","HBrGO","ILrGO"], "range": ["#f24b4b","#4fd24f","#3f9be6"]}, "legend": null}}},
      {"data": {"name": "xrdg"}, "mark": {"type": "line", "color": "#777", "strokeWidth": 1, "strokeDash": [1.5, 1.5]}},
      {"data": {"name": "xrdl"}, "mark": {"type": "text", "fontSize": 10.5}, "encoding": {"text": {"field": "t"}}},
      {"data": {"values": [{"x": 3.4, "y": 167.5, "t": "a"}]}, "mark": {"type": "text", "fontSize": 18, "align": "left", "baseline": "top"}, "encoding": {"text": {"field": "t"}}}
     ]
    },
    {"width": 228, "height": 166,
     "encoding": {
      "x": {"field": "x", "type": "quantitative", "scale": {"domain": [800, 2100], "nice": false, "zero": false}, "axis": {"title": "Raman shift (cm⁻¹)", "format": "d", "titlePadding": 7.5, "values": [800,1000,1200,1400,1600,1800,2000]}},
      "y": {"field": "y", "type": "quantitative", "scale": {"domain": [0, 167], "nice": false}, "axis": {"title": "Intensity (a.u.)", "labels": false, "ticks": false, "titlePadding": 7}}
     },
     "layer": [
      {"data": {"name": "ram"}, "mark": {"type": "line", "strokeWidth": 1.8, "interpolate": "monotone"}, "encoding": {"color": {"field": "s", "type": "nominal", "scale": {"domain": ["FArGO","HBrGO","ILrGO"], "range": ["#f24b4b","#4fd24f","#3f9be6"]}, "legend": null}}},
      {"data": {"name": "ramg"}, "mark": {"type": "line", "color": "#777", "strokeWidth": 1, "strokeDash": [1.5, 1.5]}, "encoding": {"detail": {"field": "g"}}},
      {"data": {"name": "raml"}, "transform": [{"filter": "datum.k == 'p'"}], "mark": {"type": "text", "fontSize": 11.5}, "encoding": {"text": {"field": "t"}}},
      {"data": {"name": "raml"}, "transform": [{"filter": "datum.k == 'r'"}], "mark": {"type": "text", "fontSize": 8.5}, "encoding": {"text": {"field": "t"}}},
      {"data": {"name": "raml"}, "transform": [{"filter": "datum.k == 'n'"}], "mark": {"type": "text", "fontSize": 10.5}, "encoding": {"text": {"field": "t"}}},
      {"data": {"values": [{"x": 686, "y": 167.2, "t": "b"}]}, "mark": {"type": "text", "fontSize": 18, "align": "left", "baseline": "top"}, "encoding": {"text": {"field": "t"}}}
     ]
    }
   ]}
  ]},
  {"spacing": 0, "resolve": {"scale": {"color": "independent"}}, "hconcat": [
   {"width": 1, "height": 1, "view": {"stroke": null}, "data": {"values": []}, "mark": "point"},
   {"spacing": 7, "resolve": {"scale": {"color": "independent"}}, "hconcat": [
    {"width": 227, "height": 167,
     "encoding": {
      "x": {"field": "x", "type": "quantitative", "scale": {"domain": [0, 1300], "reverse": true, "nice": false, "zero": false}, "axis": {"title": "Bing energy (eV)", "format": "d", "titlePadding": 5.7, "values": [0,200,400,600,800,1000,1200]}},
      "y": {"field": "y", "type": "quantitative", "scale": {"domain": [0, 167], "nice": false}, "axis": {"title": "Intensity (a.u.)", "labels": false, "ticks": false, "titlePadding": 11}}
     },
     "layer": [
      {"data": {"name": "svy"}, "mark": {"type": "line", "strokeWidth": 1.2}, "encoding": {"color": {"field": "s", "type": "nominal", "scale": {"domain": ["FArGO","HBrGO","ILrGO"], "range": ["#f24b4b","#4fd24f","#3f9be6"]}, "legend": null}}},
      {"data": {"name": "svyl"}, "transform": [{"filter": "datum.k == 'n'"}], "mark": {"type": "text", "fontSize": 10.5}, "encoding": {"text": {"field": "t"}}},
      {"data": {"name": "svyl"}, "transform": [{"filter": "datum.k == 'r'"}], "mark": {"type": "text", "fontSize": 8}, "encoding": {"text": {"field": "t"}}},
      {"data": {"name": "svyl"}, "transform": [{"filter": "datum.k == 'p'"}], "mark": {"type": "text", "fontSize": 11.5}, "encoding": {"text": {"field": "t"}}},
      {"data": {"values": [{"x": 1426, "y": 171.2, "t": "c"}]}, "mark": {"type": "text", "fontSize": 18, "align": "left", "baseline": "top"}, "encoding": {"text": {"field": "t"}}}
     ]
    },
    {"width": 226, "height": 167,
     "encoding": {
      "x": {"field": "x", "type": "quantitative", "scale": {"domain": [280, 294], "reverse": true, "nice": false, "zero": false}, "axis": {"title": "Bing energy (eV)", "titlePadding": 5.7, "values": [280,282,284,286,288,290,292,294]}},
      "y": {"field": "y", "type": "quantitative", "scale": {"domain": [0, 167], "nice": false}, "axis": {"title": "Intensity (a.u.)", "labels": false, "ticks": false, "titlePadding": 11}}
     },
     "layer": [
      {"data": {"name": "c1s"}, "transform": [{"filter": "datum.c == 'raw'"}], "mark": {"type": "line", "strokeWidth": 2, "strokeDash": [2, 1], "interpolate": "monotone"}, "encoding": {"color": {"field": "c", "type": "nominal", "scale": {"domain": ["bg","co2","co","cc","raw","env"], "range": ["#7b52c7","#f39a5a","#ee3b3b","#3dd13d","#4a9be6","#ef8a50"]}, "legend": null}}},
      {"data": {"name": "c1s"}, "transform": [{"filter": "datum.c != 'raw' && datum.c != 'env'"}], "mark": {"type": "line", "strokeWidth": 1.8, "interpolate": "monotone"}, "encoding": {"color": {"field": "c", "type": "nominal", "scale": {"domain": ["bg","co2","co","cc","raw","env"], "range": ["#7b52c7","#f39a5a","#ee3b3b","#3dd13d","#4a9be6","#ef8a50"]}, "legend": null}}},
      {"data": {"name": "c1s"}, "transform": [{"filter": "datum.c == 'env'"}], "mark": {"type": "line", "strokeWidth": 2.2, "interpolate": "monotone"}, "encoding": {"color": {"field": "c", "type": "nominal", "scale": {"domain": ["bg","co2","co","cc","raw","env"], "range": ["#7b52c7","#f39a5a","#ee3b3b","#3dd13d","#4a9be6","#ef8a50"]}, "legend": null}}},
      {"data": {"name": "arrows"}, "mark": {"type": "line", "strokeWidth": 1}, "encoding": {"color": {"field": "c", "type": "nominal", "scale": {"domain": ["bg","co2","co","cc","raw","env"], "range": ["#7b52c7","#f39a5a","#ee3b3b","#3dd13d","#4a9be6","#ef8a50"]}, "legend": null}}},
      {"data": {"values": [{"x": 283.08, "y": 139.3}]}, "mark": {"type": "point", "shape": "triangle-up", "filled": true, "size": 16, "angle": 61, "color": "#3dd13d", "opacity": 1}},
      {"data": {"values": [{"x": 287.51, "y": 65.3}]}, "mark": {"type": "point", "shape": "triangle-up", "filled": true, "size": 16, "angle": 316, "color": "#ee3b3b", "opacity": 1}},
      {"data": {"values": [{"x": 289.79, "y": 49.7}]}, "mark": {"type": "point", "shape": "triangle-up", "filled": true, "size": 16, "angle": 303, "color": "#f39a5a", "opacity": 1}},
      {"data": {"name": "dlab"}, "transform": [{"filter": "datum.k == 'n'"}], "mark": {"type": "text", "fontSize": 10.5}, "encoding": {"text": {"field": "t"}}},
      {"data": {"name": "dlab"}, "transform": [{"filter": "datum.k == 'p'"}], "mark": {"type": "text", "fontSize": 11.5}, "encoding": {"text": {"field": "t"}}},
      {"data": {"name": "dlab"}, "transform": [{"filter": "datum.k == 's'"}], "mark": {"type": "text", "fontSize": 8}, "encoding": {"text": {"field": "t"}}},
      {"data": {"values": [{"x": 295.4, "y": 167.2, "t": "d"}]}, "mark": {"type": "text", "fontSize": 18, "align": "left", "baseline": "top"}, "encoding": {"text": {"field": "t"}}}
     ]
    }
   ]}
  ]}
 ]},
 {"spacing": 0, "resolve": {"scale": {"color": "independent"}}, "hconcat": [
  {"width": 1, "height": 1, "view": {"stroke": null}, "data": {"values": []}, "mark": "point"},
  {"spacing": 11, "resolve": {"scale": {"color": "independent"}}, "hconcat": [
   {"spacing": 0, "bounds": "flush", "vconcat": [
    {"width": 198, "height": 101,
     "encoding": {
      "x": {"field": "x", "type": "quantitative", "scale": {"domain": [-0.1, 1.1], "nice": false, "zero": false}, "axis": {"values": [0,0.2,0.4,0.6,0.8,1], "labels": false, "title": null}},
      "y": {"field": "y", "type": "quantitative", "scale": {"domain": [0, 760], "nice": false}, "axis": {"values": [190,380,570,760], "title": null, "labelFontSize": 11.5}}
     },
     "layer": [
      {"data": {"name": "bet"}, "transform": [{"filter": "datum.s == 'FArGO'"}], "mark": {"type": "line", "color": "#3d9ae6", "strokeWidth": 1}, "encoding": {"detail": {"field": "b"}}},
      {"data": {"name": "bet"}, "transform": [{"filter": "datum.s == 'FArGO'"}], "mark": {"type": "point", "filled": true, "fill": "#a8d5f7", "stroke": "#3d9ae6", "strokeWidth": 1, "size": 24, "opacity": 1}},
      {"data": {"name": "betl"}, "transform": [{"filter": "datum.s == 'FArGO'"}], "mark": {"type": "text", "align": "left", "fontSize": 11.5}, "encoding": {"text": {"field": "t"}}},
      {"data": {"values": [{"x": -0.397, "y": 769, "t": "e"}]}, "mark": {"type": "text", "fontSize": 18, "align": "left", "baseline": "top"}, "encoding": {"text": {"field": "t"}}}
     ]
    },
    {"width": 198, "height": 101,
     "encoding": {
      "x": {"field": "x", "type": "quantitative", "scale": {"domain": [-0.1, 1.1], "nice": false, "zero": false}, "axis": {"values": [0,0.2,0.4,0.6,0.8,1], "labels": false, "title": null}},
      "y": {"field": "y", "type": "quantitative", "scale": {"domain": [0, 740], "nice": false}, "axis": {"values": [190,380,570,740], "title": "Volume adsorbed (cc g⁻¹)", "titleFontSize": 15, "titlePadding": 13.75, "labelFontSize": 11.5}}
     },
     "layer": [
      {"data": {"name": "bet"}, "transform": [{"filter": "datum.s == 'HBrGO'"}], "mark": {"type": "line", "color": "#45c945", "strokeWidth": 1}, "encoding": {"detail": {"field": "b"}}},
      {"data": {"name": "bet"}, "transform": [{"filter": "datum.s == 'HBrGO'"}], "mark": {"type": "point", "filled": true, "fill": "#b2ecb2", "stroke": "#45c945", "strokeWidth": 1, "size": 24, "opacity": 1}},
      {"data": {"name": "betl"}, "transform": [{"filter": "datum.s == 'HBrGO'"}], "mark": {"type": "text", "align": "left", "fontSize": 11.5}, "encoding": {"text": {"field": "t"}}}
     ]
    },
    {"width": 198, "height": 101,
     "encoding": {
      "x": {"field": "x", "type": "quantitative", "scale": {"domain": [-0.1, 1.1], "nice": false, "zero": false}, "axis": {"values": [0,0.2,0.4,0.6,0.8,1], "format": ".1f", "title": "Relative pressure (p/p₀)", "titleFontSize": 14, "titlePadding": 5, "labelFontSize": 11.5}},
      "y": {"field": "y", "type": "quantitative", "scale": {"domain": [0, 720], "nice": false}, "axis": {"values": [0,180,360,540,720], "title": null, "labelFontSize": 11.5}}
     },
     "layer": [
      {"data": {"name": "bet"}, "transform": [{"filter": "datum.s == 'ILrGO'"}], "mark": {"type": "line", "color": "#ec4c4c", "strokeWidth": 1}, "encoding": {"detail": {"field": "b"}}},
      {"data": {"name": "bet"}, "transform": [{"filter": "datum.s == 'ILrGO'"}], "mark": {"type": "point", "filled": true, "fill": "#f8b4b4", "stroke": "#ec4c4c", "strokeWidth": 1, "size": 24, "opacity": 1}},
      {"data": {"name": "betl"}, "transform": [{"filter": "datum.s == 'ILrGO'"}], "mark": {"type": "text", "align": "left", "fontSize": 11.5}, "encoding": {"text": {"field": "t"}}}
     ]
    }
   ]},
   {"spacing": 0, "bounds": "flush", "vconcat": [
    {"width": 198, "height": 101,
     "encoding": {
      "x": {"field": "x", "type": "quantitative", "scale": {"domain": [0, 30], "nice": false, "zero": false}, "axis": {"values": [0,5,10,15,20,25,30], "labels": false, "title": null}},
      "y": {"field": "y", "type": "quantitative", "scale": {"domain": [-0.028, 0.232], "nice": false, "zero": false}, "axis": {"values": [0,0.065,0.13,0.195], "format": ".3f", "title": null, "labelFontSize": 11.5}}
     },
     "layer": [
      {"data": {"name": "psd"}, "transform": [{"filter": "datum.s == 'FArGO'"}], "mark": {"type": "line", "color": "#3d9ae6", "strokeWidth": 1}},
      {"data": {"name": "psd"}, "transform": [{"filter": "datum.s == 'FArGO'"}], "mark": {"type": "point", "filled": true, "fill": "#a8d5f7", "stroke": "#3d9ae6", "strokeWidth": 1, "size": 24, "opacity": 1}},
      {"data": {"name": "psdl"}, "transform": [{"filter": "datum.s == 'FArGO'"}], "mark": {"type": "text", "align": "right", "fontSize": 11.5}, "encoding": {"text": {"field": "t"}}},
      {"data": {"values": [{"x": -7.58, "y": 0.217, "t": "f"}]}, "mark": {"type": "text", "fontSize": 18, "align": "left", "baseline": "top"}, "encoding": {"text": {"field": "t"}}}
     ]
    },
    {"width": 198, "height": 101,
     "encoding": {
      "x": {"field": "x", "type": "quantitative", "scale": {"domain": [0, 30], "nice": false, "zero": false}, "axis": {"values": [0,5,10,15,20,25,30], "labels": false, "title": null}},
      "y": {"field": "y", "type": "quantitative", "scale": {"domain": [-0.027, 0.224], "nice": false, "zero": false}, "axis": {"values": [0,0.063,0.126,0.189], "format": ".3f", "title": "dV (cc nm⁻¹ g⁻¹)", "titleFontSize": 15, "titlePadding": 8.5, "labelFontSize": 11.5}}
     },
     "layer": [
      {"data": {"name": "psd"}, "transform": [{"filter": "datum.s == 'HBrGO'"}], "mark": {"type": "line", "color": "#45c945", "strokeWidth": 1}},
      {"data": {"name": "psd"}, "transform": [{"filter": "datum.s == 'HBrGO'"}], "mark": {"type": "point", "filled": true, "fill": "#b2ecb2", "stroke": "#45c945", "strokeWidth": 1, "size": 24, "opacity": 1}},
      {"data": {"name": "psdl"}, "transform": [{"filter": "datum.s == 'HBrGO'"}], "mark": {"type": "text", "align": "right", "fontSize": 11.5}, "encoding": {"text": {"field": "t"}}}
     ]
    },
    {"width": 198, "height": 101,
     "encoding": {
      "x": {"field": "x", "type": "quantitative", "scale": {"domain": [0, 30], "nice": false, "zero": false}, "axis": {"values": [0,5,10,15,20,25,30], "title": "Pore width (nm)", "titleFontSize": 15, "titlePadding": 5, "labelFontSize": 11.5}},
      "y": {"field": "y", "type": "quantitative", "scale": {"domain": [-0.0215, 0.174], "nice": false, "zero": false}, "axis": {"values": [0,0.049,0.098,0.147], "format": ".3f", "title": null, "labelFontSize": 11.5}}
     },
     "layer": [
      {"data": {"name": "psd"}, "transform": [{"filter": "datum.s == 'ILrGO'"}], "mark": {"type": "line", "color": "#ec4c4c", "strokeWidth": 1}},
      {"data": {"name": "psd"}, "transform": [{"filter": "datum.s == 'ILrGO'"}], "mark": {"type": "point", "filled": true, "fill": "#f8b4b4", "stroke": "#ec4c4c", "strokeWidth": 1, "size": 24, "opacity": 1}},
      {"data": {"name": "psdl"}, "transform": [{"filter": "datum.s == 'ILrGO'"}], "mark": {"type": "text", "align": "right", "fontSize": 11.5}, "encoding": {"text": {"field": "t"}}}
     ]
    }
   ]}
  ]}
 ]}
]
}
